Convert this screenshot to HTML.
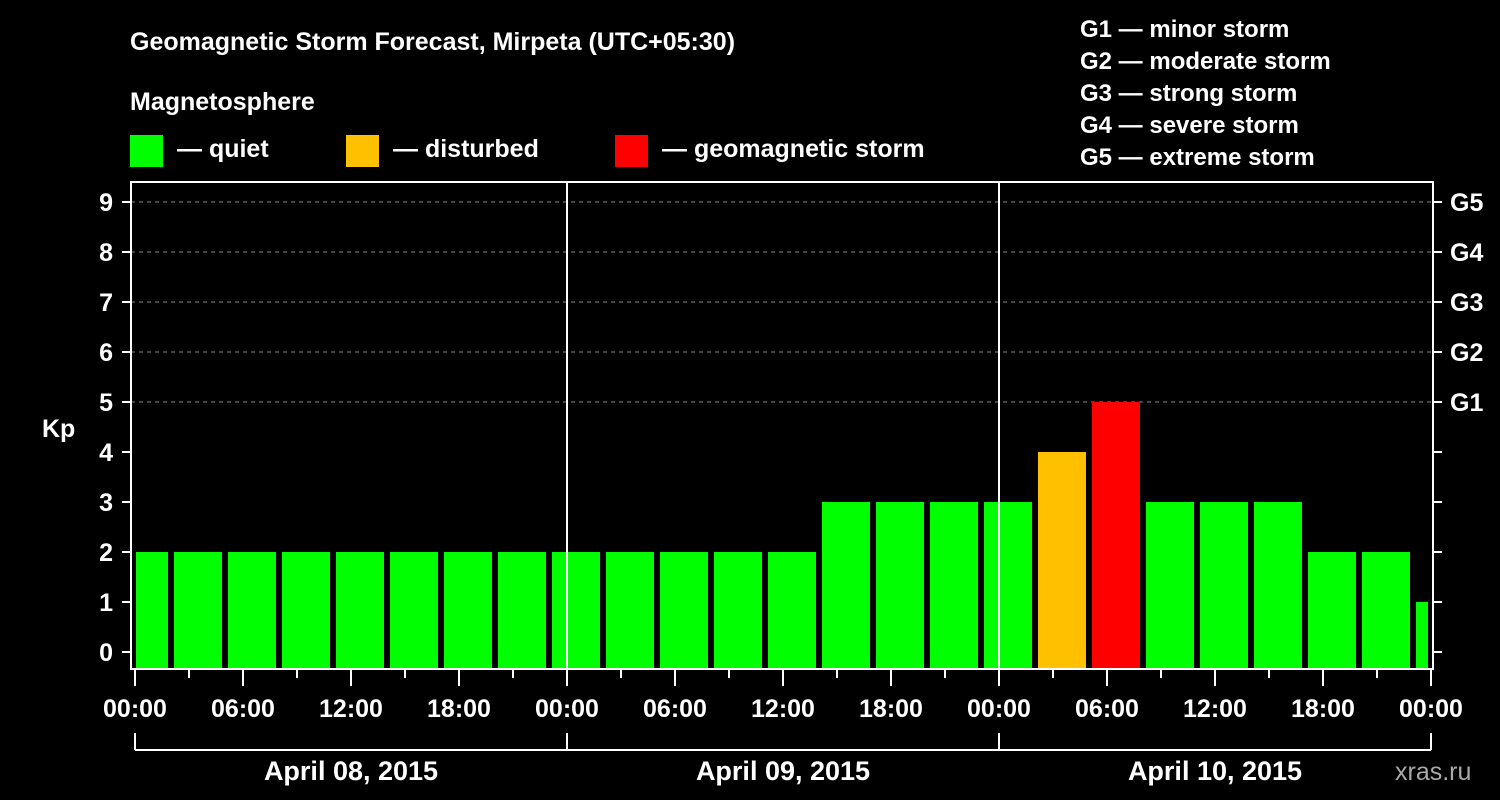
<!DOCTYPE html>
<html><head><meta charset="utf-8"><style>
body{margin:0;background:#000;}
svg{display:block;font-family:"Liberation Sans",Arial,sans-serif;font-weight:bold;}
</style></head><body>
<svg id="chart" width="1500" height="800" xmlns="http://www.w3.org/2000/svg">
<rect width="1500" height="800" fill="#000"/>
<text x="130" y="50" fill="#fff" font-size="25">Geomagnetic Storm Forecast, Mirpeta (UTC+05:30)</text>
<text x="130" y="110" fill="#fff" font-size="25">Magnetosphere</text>
<g><rect x="130" y="135" width="33" height="32" fill="#00ff00"/><text x="177" y="157" fill="#fff" font-size="25">— quiet</text></g>
<g><rect x="346" y="135" width="33" height="32" fill="#ffc000"/><text x="393" y="157" fill="#fff" font-size="25">— disturbed</text></g>
<g><rect x="615" y="135" width="33" height="32" fill="#ff0000"/><text x="662" y="157" fill="#fff" font-size="25">— geomagnetic storm</text></g>
<g fill="#fff" font-size="24">
<text x="1080" y="37">G1 — minor storm</text>
<text x="1080" y="69">G2 — moderate storm</text>
<text x="1080" y="101">G3 — strong storm</text>
<text x="1080" y="133">G4 — severe storm</text>
<text x="1080" y="165">G5 — extreme storm</text>
</g>
<text x="42" y="437" fill="#fff" font-size="25">Kp</text>
<g id="grid"></g><g id="bars"></g><g id="axes"></g>
<text x="1395" y="780" fill="#aaa" font-size="25" font-weight="normal">xras.ru</text>
</svg>
<script>
const kpValues=[2,2,2,2,2,2,2,2,2,2,2,2,2,3,3,3,3,4,5,3,3,3,2,2,1];
const hourTicks=["00:00","06:00","12:00","18:00","00:00","06:00","12:00","18:00","00:00","06:00","12:00","18:00","00:00"];
const dayLabels=["April 08, 2015","April 09, 2015","April 10, 2015"];
const stormLabels=["G1","G2","G3","G4","G5"];
const NS="http://www.w3.org/2000/svg";
const L=131,R=1433,T=182,B=669,X0=135,PXH=18,slot0Hour=2;
const y=v=>652-50*v;
const x=h=>X0+h*PXH;
function el(t,a,p){const e=document.createElementNS(NS,t);for(const k in a)e.setAttribute(k,a[k]);document.getElementById(p).appendChild(e);return e;}
// grid
for(let v=5;v<=9;v++){const g=el('line',{x1:L,x2:R,y1:y(v),y2:y(v),stroke:'#888','stroke-dasharray':'4,4','stroke-width':1},'grid');

}
// bars
kpValues.forEach((v,i)=>{
 let s=i===0?0:slot0Hour+(i-1)*3, e=slot0Hour+i*3;
 let x1=x(s)+3, x2=Math.min(x(e)-3,R-5);
 if(i===0)x1=x(0)+1;
 const c=v>=5?'#ff0000':v>=4?'#ffc000':'#00ff00';
 const r=el('rect',{x:x1,y:y(v),width:x2-x1,height:668-y(v),fill:c},'bars');
 
 
});
// day separators
[1,2].forEach(d=>{const l=el('line',{x1:x(d*24),x2:x(d*24),y1:T,y2:B,stroke:'#fff','stroke-width':2},'axes');

});
const f=el('rect',{x:L,y:T,width:R-L,height:B-T,fill:'none',stroke:'#fff','stroke-width':2},'axes');


for(let v=0;v<=9;v++){
 el('line',{x1:122,x2:L,y1:y(v),y2:y(v),stroke:'#fff','stroke-width':2},'axes');
 el('line',{x1:R,x2:1442,y1:y(v),y2:y(v),stroke:'#fff','stroke-width':2},'axes');
 const t=el('text',{x:113,y:y(v)+9,fill:'#fff','font-size':25,'text-anchor':'end'},'axes');t.textContent=v;
 
 
}
stormLabels.forEach((g,i)=>{const t=el('text',{x:1450,y:y(5+i)+9,fill:'#fff','font-size':25},'axes');t.textContent=g;

});
for(let h=0;h<=72;h+=3){const maj=h%6===0;el('line',{x1:x(h),x2:x(h),y1:B,y2:maj?686:678,stroke:'#fff','stroke-width':2},'axes');}
hourTicks.forEach((s,i)=>{const t=el('text',{x:x(i*6),y:717,fill:'#fff','font-size':25,'text-anchor':'middle'},'axes');t.textContent=s;

});
el('line',{x1:x(0),x2:x(72),y1:750,y2:750,stroke:'#fff','stroke-width':2},'axes');
for(let d=0;d<=3;d++)el('line',{x1:x(d*24),x2:x(d*24),y1:733,y2:750,stroke:'#fff','stroke-width':2},'axes');
dayLabels.forEach((s,i)=>{const t=el('text',{x:x(i*24+12),y:780,fill:'#fff','font-size':27,'text-anchor':'middle'},'axes');t.textContent=s;

});
</script>
</body></html>
